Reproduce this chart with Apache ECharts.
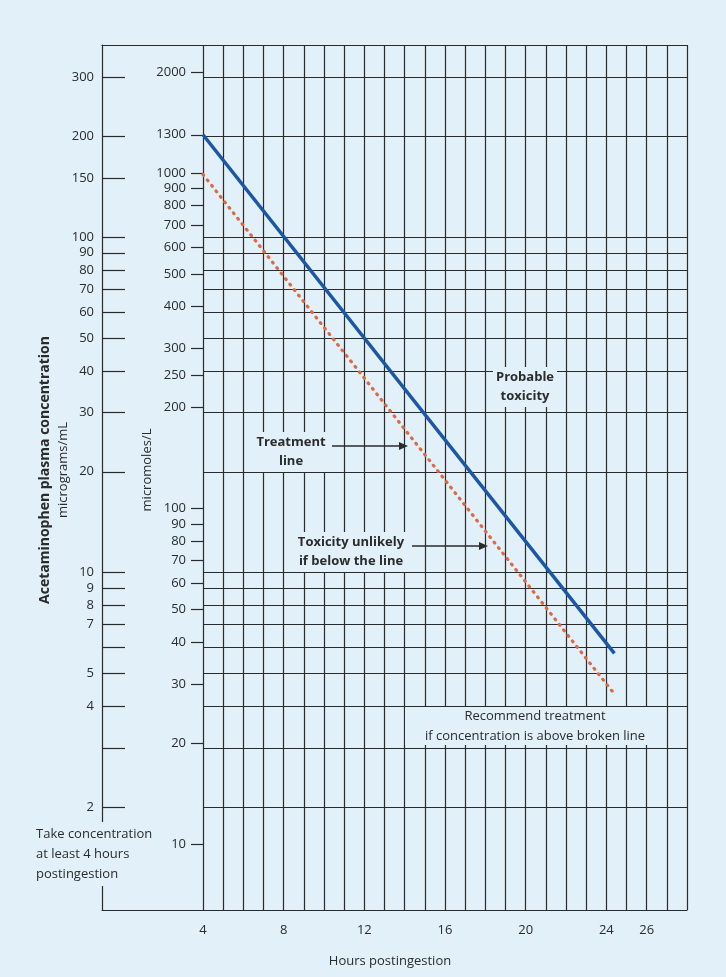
<!DOCTYPE html>
<html>
<head>
<meta charset="utf-8">
<script src="https://cdn.jsdelivr.net/npm/echarts@6/dist/echarts.min.js"></script>
<style>
  html, body { margin: 0; padding: 0; background: #e1f0f9; }
  #chart { width: 726px; height: 977px; }
</style>
</head>
<body>
<div id="chart"></div>
<script>
// hours and concentrations (micromoles/L)
const treatmentHours = [4, 24.4];
const treatmentValues = [1300, 37];
const brokenHours = [4, 24.4];
const brokenValues = [990, 28];

// tick labels
const hourLabels = [4, 8, 12, 16, 20, 24, 26];
const mcgLabels = [300, 200, 150, 100, 90, 80, 70, 60, 50, 40, 30, 20, 10, 9, 8, 7, 5, 4, 2];
const mcgTicks = [300, 200, 150, 100, 90, 80, 70, 60, 50, 40, 30, 20, 10, 9, 8, 7, 6, 5, 4, 3, 2];
const umolLabels = [2000, 1300, 1000, 900, 800, 700, 600, 500, 400, 300, 250, 200, 100, 90, 80, 70, 60, 50, 40, 30, 20, 10];
// horizontal grid lines, micrograms/mL
const mcgGrid = [300, 200, 100, 90, 80, 70, 60, 50, 40, 30, 20, 10, 9, 8, 7, 6, 5, 4, 3, 2];

const bg = "#e1f0f9";
const ink = "#2b2b2b";
const font = "Open Sans";

const MCG_MIN = 0.986, MCG_MAX = 375;
const UMOL_MIN = 6.36, UMOL_MAX = 2407;

const chart = echarts.init(document.getElementById("chart"));

const zip = (xs, ys) => xs.map((x, i) => [x, ys[i]]);
const plain = v => String(Math.round(v));

const option = {
    backgroundColor: bg,
    animation: false,
    textStyle: { fontFamily: font },
    grid: [
        { left: 102, right: 39, top: 45, bottom: 67 },
        { left: 203, right: 39, top: 45, bottom: 67 }
    ],
    xAxis: [
        {
            gridIndex: 0, type: "value", min: 0, max: 1, position: "bottom",
            axisLine: { lineStyle: { color: ink, width: 1.2 } },
            axisTick: { show: false }, axisLabel: { show: false }, splitLine: { show: false }
        },
        {
            gridIndex: 0, type: "value", min: 0, max: 1, position: "top",
            axisLine: { lineStyle: { color: ink, width: 1.2 } },
            axisTick: { show: false }, axisLabel: { show: false }, splitLine: { show: false }
        },
        {
            gridIndex: 1, type: "value", min: 4, max: 28, interval: 1,
            name: "Hours postingestion", nameLocation: "middle", nameGap: 45,
            nameTextStyle: { fontSize: 13, color: ink, padding: [0, 0, 0, -110] },
            axisLine: { show: false }, axisTick: { show: false },
            axisLabel: { customValues: hourLabels, fontSize: 13, color: ink, margin: 14 },
            splitLine: { show: true, lineStyle: { color: ink, width: 1.2 } }
        }
    ],
    yAxis: [
        {
            gridIndex: 0, type: "log", min: MCG_MIN, max: MCG_MAX,
            axisLine: { show: true, lineStyle: { color: ink, width: 1.2 } },
            axisTick: { show: true, inside: true, length: 23, customValues: mcgTicks, lineStyle: { color: ink, width: 1.2 } },
            axisLabel: { customValues: mcgLabels, fontSize: 13, color: ink, margin: 8, formatter: plain },
            splitLine: { show: false }
        },
        {
            gridIndex: 1, type: "log", min: UMOL_MIN, max: UMOL_MAX,
            axisLine: { show: false },
            axisTick: { show: true, inside: false, length: 12, customValues: umolLabels, lineStyle: { color: ink, width: 1.2 } },
            axisLabel: { customValues: umolLabels, fontSize: 13, color: ink, margin: 17, formatter: plain },
            splitLine: { show: false }
        },
        {
            gridIndex: 1, type: "log", min: MCG_MIN, max: MCG_MAX, show: false
        }
    ],
    graphic: [
        {
            type: "text", x: 45, y: 470, rotation: Math.PI / 2,
            style: { text: "Acetaminophen plasma concentration", fontFamily: font, fontWeight: "bold", fontSize: 14, fill: ink, align: "center", verticalAlign: "middle" }
        },
        {
            type: "text", x: 63, y: 470, rotation: Math.PI / 2,
            style: { text: "micrograms/mL", fontFamily: font, fontSize: 13, fill: ink, align: "center", verticalAlign: "middle" }
        },
        {
            type: "text", x: 147, y: 470, rotation: Math.PI / 2,
            style: { text: "micromoles/L", fontFamily: font, fontSize: 13, fill: ink, align: "center", verticalAlign: "middle" }
        },
        {
            type: "text", x: 36, y: 822, z: 20,
            style: { text: "Take concentration\nat least 4 hours\npostingestion", fontFamily: font, fontSize: 13, lineHeight: 20, fill: ink, backgroundColor: bg, padding: [2, 0, 2, 0] }
        },
        { type: "rect", shape: { x: 405, y: 707, width: 261, height: 38 }, style: { fill: bg }, z: 20 },
        {
            type: "text", x: 535, y: 726, z: 21,
            style: { text: "Recommend treatment\nif concentration is above broken line", fontFamily: font, fontSize: 13, lineHeight: 20, fill: ink, align: "center", verticalAlign: "middle" }
        },
        {
            type: "text", x: 525, y: 387, z: 21,
            style: { text: "Probable\ntoxicity", fontFamily: font, fontWeight: "bold", fontSize: 13, lineHeight: 19, fill: ink, align: "center", verticalAlign: "middle", backgroundColor: bg, padding: [1, 3] }
        },
        {
            type: "text", x: 291, y: 452, z: 21,
            style: { text: "Treatment\nline", fontFamily: font, fontWeight: "bold", fontSize: 13, lineHeight: 19, fill: ink, align: "center", verticalAlign: "middle", backgroundColor: bg, padding: [1, 3] }
        },
        {
            type: "text", x: 351, y: 552, z: 21,
            style: { text: "Toxicity unlikely\nif below the line", fontFamily: font, fontWeight: "bold", fontSize: 13, lineHeight: 19, fill: ink, align: "center", verticalAlign: "middle", backgroundColor: bg, padding: [1, 3] }
        },
        { type: "line", z: 21, shape: { x1: 332, y1: 446, x2: 400, y2: 446 }, style: { stroke: ink, lineWidth: 1.5 } },
        { type: "polygon", z: 21, shape: { points: [[408, 446], [399, 442], [399, 450]] }, style: { fill: ink } },
        { type: "line", z: 21, shape: { x1: 412, y1: 546, x2: 480, y2: 546 }, style: { stroke: ink, lineWidth: 1.5 } },
        { type: "polygon", z: 21, shape: { points: [[488, 546], [479, 542], [479, 550]] }, style: { fill: ink } }
    ],
    series: [
        {
            name: "grid rows", type: "line", xAxisIndex: 2, yAxisIndex: 2, data: [],
            markLine: {
                silent: true, symbol: "none", label: { show: false },
                lineStyle: { color: ink, type: "solid", width: 1.2 },
                data: mcgGrid.map(v => ({ yAxis: v }))
            }
        },
        {
            name: "Treatment line", type: "line", xAxisIndex: 2, yAxisIndex: 1, z: 10,
            data: zip(treatmentHours, treatmentValues), symbol: "none",
            lineStyle: { color: "#1b57a5", width: 3.5 }
        },
        {
            name: "Broken line", type: "line", xAxisIndex: 2, yAxisIndex: 1, z: 10,
            data: zip(brokenHours, brokenValues), symbol: "none",
            lineStyle: { color: "#dc6a45", width: 3.2, type: [1, 6], cap: "round" }
        }
    ]
};

chart.setOption(option);
</script>
</body>
</html>
